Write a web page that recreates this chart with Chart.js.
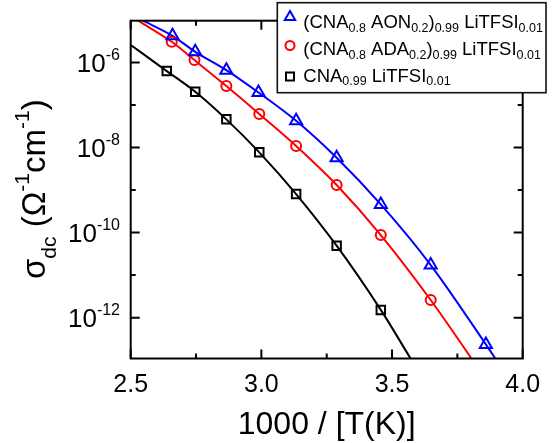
<!DOCTYPE html>
<html><head><meta charset="utf-8">
<script src="https://cdn.jsdelivr.net/npm/chart.js@4/dist/chart.umd.min.js"></script>
<style>html,body{margin:0;padding:0;background:#fff;}#wrap{width:557px;height:443px;position:relative;}</style>
</head><body><div id="wrap"><canvas id="c"></canvas></div>
<script>
// ---- data (x = 1000/T, values = log10 sigma_dc) ----
const invT_AON = [2.660, 2.747, 2.866, 2.989, 3.133, 3.288, 3.457, 3.648, 3.859];
const logSigma_AON = [-5.376, -5.752, -6.182, -6.708, -7.373, -8.242, -9.339, -10.763, -12.628];
const invT_ADA = [2.657, 2.744, 2.866, 2.992, 3.133, 3.288, 3.457, 3.648];
const logSigma_ADA = [-5.516, -5.946, -6.557, -7.214, -7.966, -8.883, -10.058, -11.585];
const invT_CNA = [2.638, 2.747, 2.866, 2.992, 3.133, 3.288, 3.457];
const logSigma_CNA = [-6.204, -6.691, -7.339, -8.114, -9.094, -10.308, -11.818];
// fitted curves (read where they cross the frame, plus the measured points)
const fitX_AON = [2.548].concat(invT_AON, [3.895]);
const fitLog_AON = [-5.02].concat(logSigma_AON, [-12.96]);
const fitX_ADA = [2.529].concat(invT_ADA, [3.804]);
const fitLog_ADA = [-5.02].concat(logSigma_ADA, [-12.96]);
const fitX_CNA = [2.5].concat(invT_CNA, [3.571]);
const fitLog_CNA = [-5.59].concat(logSigma_CNA, [-12.96]);
// axes
const xMajorTicks = [2.5, 3.0, 3.5, 4.0];
const xTickLabels = ['2.5', '3.0', '3.5', '4.0'];
const xMinorTicks = [2.75, 3.25, 3.75];
const yMajorExp = [-6, -8, -10, -12];
const yMinorExp = [-7, -9, -11];
const xRange = [2.5, 4.0];
const yLogRange = [-12.96, -5.02];
const xTitle = '1000 / [T(K)]';
// legend entries: [text, 'n' normal | 's' subscript]
const legendAON = [['(CNA','n'],['0.8','s'],[' AON','n'],['0.2','s'],[')','n'],['0.99','s'],[' LiTFSI','n'],['0.01','s']];
const legendADA = [['(CNA','n'],['0.8','s'],[' ADA','n'],['0.2','s'],[')','n'],['0.99','s'],[' LiTFSI','n'],['0.01','s']];
const legendCNA = [['CNA','n'],['0.99','s'],[' LiTFSI','n'],['0.01','s']];
const yTitleParts = [['σ','n'],['dc','s'],[' (','n'],['Ω','n'],['-1','u'],['cm','n'],['-1','u'],[')','n']];

const BLUE = '#0000ff', RED = '#ff0000', BLACK = '#000000';
const FONT = '"Liberation Sans", Arial, sans-serif';
const pts = (xs, ls) => xs.map((x, i) => ({x: x, y: Math.pow(10, ls[i])}));

function drawParts(ctx, parts, x, y, nSize, sSize, subShift, supShift) {
  let cx = x;
  for (const [t, k] of parts) {
    const sz = k === 'n' ? nSize : sSize;
    ctx.font = sz + 'px ' + FONT;
    const dy = k === 's' ? subShift : (k === 'u' ? supShift : 0);
    ctx.fillText(t, cx, y + dy);
    cx += ctx.measureText(t).width;
  }
  return cx;
}
function partsWidth(ctx, parts, nSize, sSize) {
  let w = 0;
  for (const [t, k] of parts) {
    ctx.font = (k === 'n' ? nSize : sSize) + 'px ' + FONT;
    w += ctx.measureText(t).width;
  }
  return w;
}

const deco = {
  id: 'deco',
  afterDraw(chart) {
    const ctx = chart.ctx, a = chart.chartArea;
    const xs = chart.scales.x, ys = chart.scales.y;
    ctx.save();
    ctx.strokeStyle = BLACK; ctx.fillStyle = BLACK; ctx.lineWidth = 2;
    ctx.strokeRect(a.left, a.top, a.right - a.left, a.bottom - a.top);
    const MAJ = 9, MIN = 5;
    ctx.beginPath();
    for (const v of xMajorTicks.concat(xMinorTicks)) {
      const L = xMajorTicks.includes(v) ? MAJ : MIN;
      const px = xs.getPixelForValue(v);
      ctx.moveTo(px, a.bottom); ctx.lineTo(px, a.bottom - L);
      ctx.moveTo(px, a.top); ctx.lineTo(px, a.top + L);
    }
    for (const e of yMajorExp.concat(yMinorExp)) {
      const L = yMajorExp.includes(e) ? MAJ : MIN;
      const py = ys.getPixelForValue(Math.pow(10, e));
      ctx.moveTo(a.left, py); ctx.lineTo(a.left + L, py);
      ctx.moveTo(a.right, py); ctx.lineTo(a.right - L, py);
    }
    ctx.stroke();
    // x tick labels
    ctx.textBaseline = 'alphabetic';
    ctx.textAlign = 'center';
    ctx.font = '25px ' + FONT;
    xMajorTicks.forEach((v, i) => ctx.fillText(xTickLabels[i], xs.getPixelForValue(v), 392));
    // y tick labels 10^e
    ctx.textAlign = 'left';
    for (const e of yMajorExp) {
      const py = ys.getPixelForValue(Math.pow(10, e));
      const parts = [['10','n'], [String(e),'u']];
      const w = partsWidth(ctx, parts, 26, 16);
      drawParts(ctx, parts, 120 - w, py + 9.3, 26, 16, 0, -11.5);
    }
    // x title
    ctx.textAlign = 'center';
    ctx.font = '32px ' + FONT;
    ctx.fillText(xTitle, (a.left + a.right) / 2, 434);
    // y title
    ctx.textAlign = 'left';
    ctx.save();
    ctx.translate(45, 279);
    ctx.rotate(-Math.PI / 2);
    drawParts(ctx, yTitleParts, 0, 0, 33, 21, 11, -16);
    ctx.restore();
    // legend
    const bx = 277.3, by = 2.7, bw = 268.7, bh = 90;
    ctx.fillStyle = '#fff';
    ctx.fillRect(bx, by, bw, bh);
    ctx.lineWidth = 1.6; ctx.strokeStyle = '#111';
    ctx.strokeRect(bx, by, bw, bh);
    ctx.fillStyle = BLACK;
    const rows = [[legendAON, 28.3], [legendADA, 55], [legendCNA, 81.7]];
    for (const [parts, base] of rows) drawParts(ctx, parts, 303.3, base, 18.5, 12.5, 3.5, 0);
    ctx.lineWidth = 2;
    // triangle
    ctx.strokeStyle = BLUE;
    ctx.beginPath();
    const tr = 6, tx = 290, ty = 17;
    for (let k = 0; k < 3; k++) {
      const ang = k * 2 * Math.PI / 3;
      const X = tx + Math.sin(ang) * tr, Y = ty - Math.cos(ang) * tr;
      k === 0 ? ctx.moveTo(X, Y) : ctx.lineTo(X, Y);
    }
    ctx.closePath(); ctx.stroke();
    ctx.strokeStyle = RED;
    ctx.beginPath(); ctx.arc(290, 45.5, 4.5, 0, Math.PI * 2); ctx.stroke();
    ctx.strokeStyle = BLACK;
    ctx.strokeRect(286, 72.5, 8, 8);
    ctx.restore();
  }
};

const fitDS = (xs, ls, col) => ({data: pts(xs, ls), showLine: true, borderColor: col, borderWidth: 2,
  pointRadius: 0, pointHoverRadius: 0, cubicInterpolationMode: 'monotone', fill: false, order: 2});
const markDS = (xs, ls, col, style, r) => ({data: pts(xs, ls), showLine: false, borderColor: col,
  backgroundColor: 'rgba(0,0,0,0)', borderWidth: 2, pointStyle: style, pointRadius: r, pointHoverRadius: r, order: 1});

new Chart(document.getElementById('c'), {
  type: 'scatter',
  data: {datasets: [
    fitDS(fitX_AON, fitLog_AON, BLUE),
    fitDS(fitX_ADA, fitLog_ADA, RED),
    fitDS(fitX_CNA, fitLog_CNA, BLACK),
    markDS(invT_AON, logSigma_AON, BLUE, 'triangle', 7),
    markDS(invT_ADA, logSigma_ADA, RED, 'circle', 5),
    markDS(invT_CNA, logSigma_CNA, BLACK, 'rect', 6)
  ]},
  options: {
    responsive: true, maintainAspectRatio: false, animation: false,
    layout: {padding: {left: 130.7, right: 34.3, top: 20.7, bottom: 84.5}},
    plugins: {legend: {display: false}, tooltip: {enabled: false}},
    events: [],
    scales: {
      x: {type: 'linear', min: xRange[0], max: xRange[1], display: false},
      y: {type: 'logarithmic', min: Math.pow(10, yLogRange[0]), max: Math.pow(10, yLogRange[1]), display: false}
    }
  },
  plugins: [deco]
});
</script></body></html>
